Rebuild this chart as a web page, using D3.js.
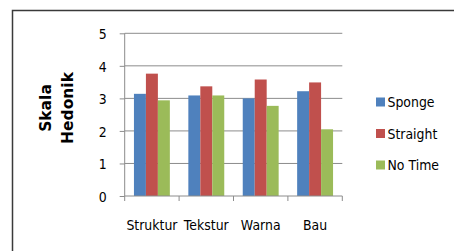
<!DOCTYPE html>
<html><head><meta charset="utf-8">
<script src="https://cdn.jsdelivr.net/npm/d3@7"></script>
<style>body{margin:0;background:#fff}svg{display:block}</style>
</head><body>
<script>
const categories = ["Struktur", "Tekstur", "Warna", "Bau"];
const seriesNames = ["Sponge", "Straight", "No Time"];
const sponge = [3.14, 3.09, 3.0, 3.22];
const straight = [3.76, 3.37, 3.58, 3.49];
const noTime = [2.94, 3.09, 2.77, 2.05];
const yTicks = [0, 1, 2, 3, 4, 5];
const colors = ["#4F81BD", "#C0504D", "#9BBB59"];
const seriesValues = [sponge, straight, noTime];

(function () {
const W = 454, H = 251;
const svg = d3.select("body").append("svg").attr("width", W).attr("height", H);
const font = "Tahoma, 'DejaVu Sans', sans-serif";
const stretch = 1.18;
function vstretch(sel) {
  sel.each(function () {
    const yy = +(this.getAttribute("y") || 0);
    d3.select(this).attr("transform", `translate(0,${yy}) scale(1,${stretch}) translate(0,${-yy})`);
  });
}

svg.append("rect").attr("x", 12.5).attr("y", 10.5).attr("width", 460).attr("height", 260)
  .attr("fill", "#fff").attr("stroke", "#3a3a3a").attr("stroke-width", 1.5);

const pl = 124.7, pr = 342.3, pt = 33.3, pb = 196;
const x = d3.scaleBand().domain(categories).range([pl, pr]).paddingInner(0.34).paddingOuter(0.17);
const xs = d3.scaleBand().domain(seriesNames).range([0, x.bandwidth()]);
const y = d3.scaleLinear().domain([0, 5]).range([pb, pt]);

svg.append("g").selectAll("line").data(yTicks.filter(d => d > 0)).join("line")
  .attr("x1", pl).attr("x2", pr).attr("y1", d => y(d)).attr("y2", d => y(d))
  .attr("stroke", "#8c8c8c").attr("stroke-width", 1);

const groups = svg.append("g").selectAll("g").data(categories).join("g")
  .attr("transform", d => `translate(${x(d)},0)`);
groups.selectAll("rect").data((c, i) => seriesNames.map((s, j) => ({ s, v: seriesValues[j][i], j })))
  .join("rect")
  .attr("x", d => xs(d.s)).attr("width", xs.bandwidth())
  .attr("y", d => y(d.v)).attr("height", d => y(0) - y(d.v))
  .attr("fill", d => colors[d.j]);

const yAxis = d3.axisLeft(y).tickValues(yTicks).tickSize(5).tickPadding(13).tickFormat(d3.format("d"));
const gy = svg.append("g").attr("transform", `translate(${pl},0)`).call(yAxis);
gy.select(".domain").attr("stroke", "#8c8c8c").attr("d", `M0,${pt}V${pb}`);
gy.selectAll(".tick line").attr("stroke", "#8c8c8c");
gy.selectAll("text").attr("font-family", font).attr("font-size", 12.5).attr("fill", "#000")
  .attr("dy", "0.36em").call(vstretch);

const xAxis = d3.axisBottom(x).tickSize(0).tickPadding(23);
const gx = svg.append("g").attr("transform", `translate(0,${pb})`).call(xAxis);
gx.select(".domain").attr("stroke", "#8c8c8c").attr("d", `M${pl},0H${pr}`);
gx.selectAll("text").attr("font-family", font).attr("font-size", 12.5).attr("fill", "#000")
  .attr("y", 29).attr("dy", "0.36em").call(vstretch);
const bounds = [pl].concat(categories.map(c => x(c) + x.bandwidth() + x.step() * x.paddingInner() / 2));
bounds[bounds.length - 1] = pr;
gx.append("g").selectAll("line").data(bounds).join("line")
  .attr("x1", d => d).attr("x2", d => d).attr("y1", 0).attr("y2", 5).attr("stroke", "#8c8c8c");

const yt = svg.append("text").attr("transform", "translate(56,108) rotate(-90)")
  .attr("text-anchor", "middle").attr("font-family", "'DejaVu Sans', sans-serif")
  .attr("font-weight", "bold").attr("font-size", 15.5);
yt.append("tspan").attr("x", 0).attr("dy", "-0.35em").text("Skala");
yt.append("tspan").attr("x", 0).attr("dy", "1.42em").text("Hedonik");

const lg = svg.append("g").selectAll("g").data(seriesNames).join("g")
  .attr("transform", (d, i) => `translate(376,${102 + i * 31.5})`);
lg.append("rect").attr("x", 0).attr("y", -4.5).attr("width", 9).attr("height", 9).attr("fill", (d, i) => colors[i]);
lg.append("text").attr("x", 11.5).attr("y", 0).attr("dy", "0.36em").attr("font-family", font).attr("font-size", 12.5)
  .text(d => d).call(vstretch);
})();
</script>
</body></html>
